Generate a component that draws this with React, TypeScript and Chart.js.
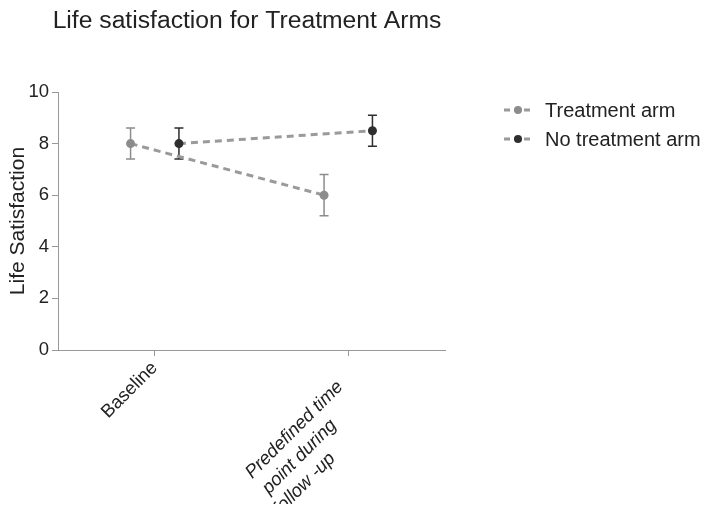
import React, { useEffect, useRef } from "react";
import { Chart, registerables } from "chart.js";

Chart.register(...registerables);

const TITLE = "Life satisfaction for Treatment Arms";
const Y_TITLE = "Life Satisfaction";
const CATEGORIES: string[][] = [
  ["Baseline"],
  ["Predefined time", "point during", "follow -up"],
];
const ITALIC_CATEGORY = [false, true];
const SERIES_NAMES = ["Treatment arm", "No treatment arm"];
const TREATMENT_MEAN = [8, 6];
const TREATMENT_ERR = [0.6, 0.8];
const NO_TREATMENT_MEAN = [8, 8.5];
const NO_TREATMENT_ERR = [0.6, 0.6];
const Y_TICKS = [0, 2, 4, 6, 8, 10];
const DODGE = 0.125;

const FONT = "'Liberation Sans', Arial, sans-serif";
const LINE_COLOR = "#9a9a9a";
const POINT_COLORS = ["#8c8c8c", "#2e2e2e"];
const ERR_COLORS = ["#8c8c8c", "#2e2e2e"];
const MEANS = [TREATMENT_MEAN, NO_TREATMENT_MEAN];
const ERRS = [TREATMENT_ERR, NO_TREATMENT_ERR];

export default function App() {
  const ref = useRef<HTMLCanvasElement | null>(null);
  useEffect(() => {
    if (!ref.current) return;

    const errorBars = {
      id: "errorBars",
      beforeDatasetsDraw(chart: any) {
        const { ctx } = chart;
        const xs = chart.scales.x;
        const ys = chart.scales.y;
        ctx.save();
        MEANS.forEach((means, s) => {
          const off = s === 0 ? -DODGE : DODGE;
          ctx.strokeStyle = ERR_COLORS[s];
          ctx.lineWidth = 1.5;
          means.forEach((m, i) => {
            const x = xs.getPixelForValue(i + off);
            const yt = ys.getPixelForValue(m + ERRS[s][i]);
            const yb = ys.getPixelForValue(m - ERRS[s][i]);
            ctx.beginPath();
            ctx.moveTo(x, yt);
            ctx.lineTo(x, yb);
            ctx.moveTo(x - 4.5, yt);
            ctx.lineTo(x + 4.5, yt);
            ctx.moveTo(x - 4.5, yb);
            ctx.lineTo(x + 4.5, yb);
            ctx.stroke();
          });
        });
        ctx.restore();
      },
    };

    const decor = {
      id: "decor",
      afterDraw(chart: any) {
        const { ctx } = chart;
        const xs = chart.scales.x;
        ctx.save();
        ctx.fillStyle = "#222";
        ctx.font = `24.7px ${FONT}`;
        ctx.textAlign = "center";
        ctx.textBaseline = "middle";
        ctx.fillText(TITLE, 239, 13);

        // category labels (rotated, centred lines)
        CATEGORIES.forEach((lines, i) => {
          ctx.font = `${ITALIC_CATEGORY[i] ? "italic " : ""}18.5px ${FONT}`;
          const widths = lines.map((l) => ctx.measureText(l).width);
          const lmax = Math.max(...widths);
          const h = lmax / (2 * Math.SQRT2);
          const b = 15 + 9.5 * (lines.length - 1);
          const x0 = xs.getPixelForValue(i);
          const y0 = xs.top;
          lines.forEach((l, j) => {
            const cx = x0 - h - (lines.length > 1 ? 8 : 0) + j * 5;
            const cy = y0 + h + b + j * 27;
            ctx.save();
            ctx.translate(cx, cy);
            ctx.rotate(-Math.PI / 4);
            ctx.textAlign = "center";
            ctx.textBaseline = "middle";
            ctx.fillStyle = "#222";
            ctx.fillText(l, 0, 0);
            ctx.restore();
          });
        });

        // legend
        ctx.font = `20px ${FONT}`;
        ctx.textAlign = "left";
        ctx.textBaseline = "middle";
        SERIES_NAMES.forEach((name, s) => {
          const y = 102 + s * 29;
          ctx.strokeStyle = LINE_COLOR;
          ctx.lineWidth = 3;
          ctx.setLineDash([6, 4]);
          ctx.beginPath();
          ctx.moveTo(496, y);
          ctx.lineTo(525, y);
          ctx.stroke();
          ctx.setLineDash([]);
          ctx.fillStyle = POINT_COLORS[s];
          ctx.beginPath();
          ctx.arc(510, y, 4, 0, Math.PI * 2);
          ctx.fill();
          ctx.fillStyle = "#222";
          ctx.fillText(name, 537, y + 1);
        });
        ctx.restore();
      },
    };

    const chart = new Chart(ref.current, {
      type: "line",
      data: {
        datasets: MEANS.map((means, s) => ({
          label: SERIES_NAMES[s],
          data: means.map((m, i) => ({ x: i + (s === 0 ? -DODGE : DODGE), y: m })),
          borderColor: LINE_COLOR,
          borderWidth: 3,
          borderDash: [7, 5],
          pointRadius: 4.5,
          pointBackgroundColor: POINT_COLORS[s],
          pointBorderColor: POINT_COLORS[s],
          pointBorderWidth: 0,
          fill: false,
          tension: 0,
        })),
      },
      options: {
        animation: false,
        responsive: false,
        devicePixelRatio: 1,
        layout: { padding: { top: 84, right: 266, bottom: 0, left: 0 } },
        plugins: {
          legend: { display: false },
          title: { display: false },
          tooltip: { enabled: false },
        },
        scales: {
          x: {
            type: "linear",
            min: -0.5,
            max: 1.5,
            afterBuildTicks: (scale: any) => {
              scale.ticks = CATEGORIES.map((_, i) => ({ value: i }));
            },
            afterFit: (scale: any) => {
              scale.height = 154;
            },
            border: { color: "#999", width: 1 },
            grid: {
              drawOnChartArea: false,
              drawTicks: true,
              tickLength: 6,
              color: "#999",
            },
            ticks: { display: false },
          },
          y: {
            min: 0,
            max: 10,
            afterBuildTicks: (scale: any) => {
              scale.ticks = Y_TICKS.map((v) => ({ value: v }));
            },
            afterFit: (scale: any) => {
              scale.width = 50;
            },
            border: { color: "#999", width: 1 },
            grid: {
              drawOnChartArea: false,
              drawTicks: true,
              tickLength: 6,
              color: "#999",
            },
            ticks: {
              color: "#222",
              padding: 3,
              font: { family: FONT, size: 18.5 },
            },
            title: {
              display: true,
              text: Y_TITLE,
              color: "#222",
              font: { family: FONT, size: 21, lineHeight: 1.0 },
              padding: { top: 0, bottom: 2 },
            },
          },
        },
      },
      plugins: [errorBars, decor],
    });
    return () => chart.destroy();
  }, []);

  return (
    <div style={{ width: 703, height: 496 }}>
      <canvas ref={ref} width={703} height={496} style={{ display: "block" }} />
    </div>
  );
}
